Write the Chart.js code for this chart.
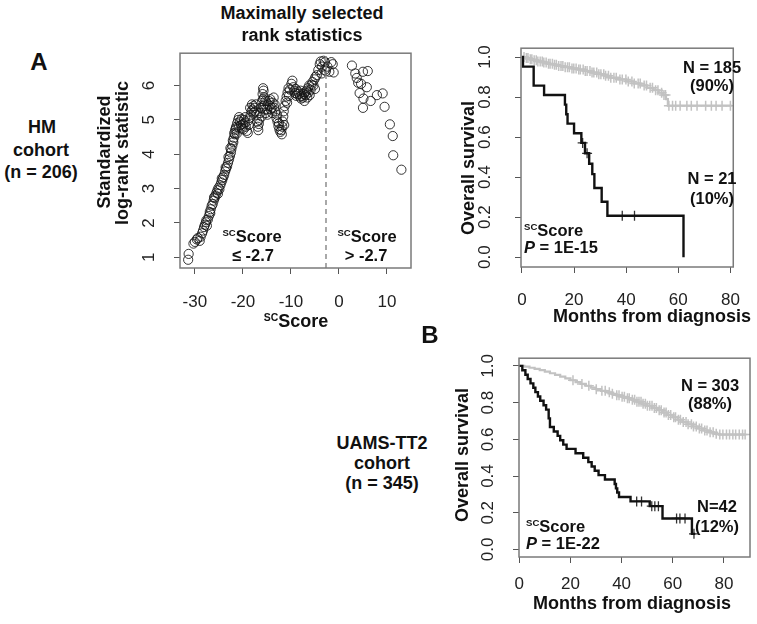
<!DOCTYPE html>
<html>
<head>
<meta charset="utf-8">
<script src="https://cdn.jsdelivr.net/npm/chart.js@4.4.1/dist/chart.umd.min.js"></script>
<style>
   body { margin: 0; background: #fff; }
   #fig { position: relative; width: 757px; height: 624px; overflow: hidden; font-family: "Liberation Sans", Arial, sans-serif; color: #111; }
   canvas { position: absolute; }
   .t { position: absolute; transform: translate(-50%, -50%); white-space: nowrap; line-height: 1; }
   .l { transform: translate(0, -50%); }
   .rot { transform: translate(-50%, -50%) rotate(-90deg); }
   .b { font-weight: bold; }
   .sc { font-size: 58%; vertical-align: 0.62em; font-weight: bold; }
</style>
</head>
<body>
<div id="fig">
   <canvas id="rankChart" width="330" height="300" style="left:90px;top:40px"></canvas>
   <canvas id="hmChart" width="317" height="290" style="left:440px;top:35px"></canvas>
   <canvas id="tt2Chart" width="317" height="275" style="left:440px;top:345px"></canvas>

   <div class="t b" style="left:302px;top:13px;font-size:18px">Maximally selected</div>
   <div class="t b" style="left:302px;top:35px;font-size:18px">rank statistics</div>
   <div class="t b" style="left:39px;top:62px;font-size:24px">A</div>
   <div class="t b" style="left:42px;top:127px;font-size:18px">HM</div>
   <div class="t b" style="left:41px;top:150px;font-size:18px">cohort</div>
   <div class="t b" style="left:41px;top:172px;font-size:18px">(n = 206)</div>
   <div class="t b rot" style="left:104px;top:152px;font-size:18px">Standardized</div>
   <div class="t b rot" style="left:122px;top:153px;font-size:18px">log-rank statistic</div>
   <div class="t b" style="left:296px;top:321px;font-size:18px"><span class="sc">SC</span>Score</div>
   <div class="t b" style="left:252px;top:236px;font-size:16.5px"><span class="sc">SC</span>Score</div>
   <div class="t b" style="left:253px;top:255px;font-size:16.5px">≤ -2.7</div>
   <div class="t b" style="left:367px;top:236px;font-size:16.5px"><span class="sc">SC</span>Score</div>
   <div class="t b" style="left:366px;top:255px;font-size:16.5px">&gt; -2.7</div>

   <div class="t b rot" style="left:468px;top:168px;font-size:18px">Overall survival</div>
   <div class="t b" style="left:652px;top:316px;font-size:18px">Months from diagnosis</div>
   <div class="t b" style="left:712px;top:67px;font-size:16.5px">N = 185</div>
   <div class="t b" style="left:712px;top:85px;font-size:16.5px">(90%)</div>
   <div class="t b" style="left:712px;top:178px;font-size:16.5px">N = 21</div>
   <div class="t b" style="left:712px;top:198px;font-size:16.5px">(10%)</div>
   <div class="t b l" style="left:524px;top:230px;font-size:16.5px"><span class="sc">SC</span>Score</div>
   <div class="t b l" style="left:524px;top:247px;font-size:16.5px"><i>P</i> = 1E-15</div>

   <div class="t b" style="left:430px;top:335px;font-size:24px">B</div>
   <div class="t b" style="left:382px;top:443px;font-size:18px">UAMS-TT2</div>
   <div class="t b" style="left:382px;top:463px;font-size:18px">cohort</div>
   <div class="t b" style="left:382px;top:483px;font-size:18px">(n = 345)</div>
   <div class="t b rot" style="left:462px;top:455px;font-size:18px">Overall survival</div>
   <div class="t b" style="left:632px;top:603px;font-size:18px">Months from diagnosis</div>
   <div class="t b" style="left:710px;top:385px;font-size:16.5px">N = 303</div>
   <div class="t b" style="left:710px;top:403px;font-size:16.5px">(88%)</div>
   <div class="t b" style="left:717px;top:506px;font-size:16.5px">N=42</div>
   <div class="t b" style="left:717px;top:526px;font-size:16.5px">(12%)</div>
   <div class="t b l" style="left:526px;top:526px;font-size:16.5px"><span class="sc">SC</span>Score</div>
   <div class="t b l" style="left:526px;top:543px;font-size:16.5px"><i>P</i> = 1E-22</div>
</div>

<script>
// ---- panel A, left: maximally selected rank statistics (HM cohort)
const scoreCut = [
   -31.4, -31.3, -30.3, -30.0, -29.6, -29.4, -29.0, -28.8, -28.5, -28.3,
   -28.1, -27.9, -27.7, -27.5, -27.3, -27.1, -26.9, -26.7, -26.5, -26.3,
   -26.1, -25.9, -25.7, -25.5, -25.3, -25.1, -24.9, -24.7, -24.5, -24.3,
   -24.1, -23.9, -23.7, -23.5, -23.3, -23.1, -22.9, -22.7, -22.5, -22.4,
   -22.2, -22.0, -21.9, -21.7, -21.6, -21.4, -21.2, -21.0, -20.8, -20.6,
   -20.4, -20.2, -20.0, -19.8, -19.6, -19.4, -19.2, -19.0, -18.8, -18.6,
   -18.4, -18.2, -18.0, -17.8, -17.6, -17.4, -17.2, -17.0, -16.9, -16.8,
   -16.6, -16.4, -16.2, -16.0, -15.9, -15.8, -15.7, -15.6, -15.5, -15.4,
   -15.2, -15.0, -14.8, -14.6, -14.4, -14.2, -14.0, -13.8, -13.6, -13.4,
   -13.2, -13.0, -12.8, -12.6, -12.4, -12.2, -12.0, -11.8, -11.7, -11.6,
   -11.5, -11.3, -11.1, -10.9, -10.7, -10.5, -10.2, -9.9, -9.7, -9.5,
   -9.3, -9.1, -8.9, -8.7, -8.5, -8.3, -8.1, -7.9, -7.7, -7.5,
   -7.3, -7.1, -6.9, -6.7, -6.5, -6.3, -6.1, -5.9, -5.7, -5.5,
   -5.3, -5.1, -4.9, -4.6, -4.3, -4.0, -3.8, -3.5, -3.2, -2.9,
   -2.7, -2.4, -2.0, -1.6, -1.3, -1.1,
   -27.6, -26.8, -26.0, -25.2, -24.4, -23.6, -23.0, -22.6, -22.1, -21.8,
   -21.5, -21.3, -20.9, -20.3, -19.9, -19.5, -18.9, -18.5, -18.1, -17.7,
   -17.3, -16.7, -16.1, -15.8, -15.7, -15.3, -14.9, -14.3, -13.9, -13.5,
   -12.9, -12.5, -11.9, -11.4, -10.8, -10.4, -9.0, -8.0, -7.2, -6.6,
   -6.2, -5.0, -3.6, -3.0,
   2.7, 3.4, 3.7, 4.0, 4.3, 4.6, 5.0, 5.1, 5.0, 5.8,
   6.0, 6.6, 7.9, 9.1, 9.5, 10.6, 11.2, 11.3, 13.0
];
const stdLogRank = [
   0.93, 1.10, 1.40, 1.45, 1.52, 1.56, 1.48, 1.60, 1.70, 1.78,
   1.88, 1.95, 2.02, 1.92, 2.10, 2.20, 2.32, 2.40, 2.50, 2.55,
   2.65, 2.72, 2.80, 2.88, 2.95, 3.02, 2.98, 3.10, 3.18, 3.25,
   3.33, 3.40, 3.50, 3.58, 3.65, 3.75, 3.85, 3.95, 4.05, 4.15,
   4.25, 4.35, 4.48, 4.58, 4.70, 4.80, 4.90, 5.00, 5.08, 4.95,
   4.85, 4.75, 4.88, 5.00, 4.92, 4.80, 4.68, 4.62, 4.85, 5.05,
   5.15, 5.25, 5.30, 5.40, 5.35, 5.25, 5.15, 4.95, 4.80, 4.70,
   5.00, 5.20, 5.35, 5.55, 5.75, 5.92, 5.85, 5.65, 5.45, 5.30,
   5.20, 5.30, 5.45, 5.55, 5.40, 5.30, 5.35, 5.50, 5.65, 5.45,
   5.25, 5.05, 4.95, 4.82, 4.72, 4.65, 4.70, 4.80, 4.95, 5.10,
   5.25, 5.40, 5.55, 5.68, 5.80, 5.92, 5.88, 6.05, 6.14, 5.95,
   5.85, 5.78, 5.70, 5.75, 5.82, 5.76, 5.68, 5.62, 5.70, 5.65,
   5.75, 5.80, 5.72, 5.85, 5.92, 5.80, 5.72, 5.88, 6.02, 6.10,
   6.00, 6.18, 6.25, 6.30, 6.45, 6.62, 6.70, 6.55, 6.72, 6.68,
   6.42, 6.55, 6.40, 6.68, 6.62, 6.38,
   2.08, 2.28, 2.75, 2.85, 3.30, 3.62, 3.92, 4.18, 4.40, 4.62,
   4.75, 4.60, 4.78, 5.02, 4.72, 5.08, 4.98, 5.35, 5.45, 5.22,
   5.45, 4.88, 5.10, 5.60, 5.40, 5.55, 5.15, 5.60, 5.20, 5.35,
   5.15, 4.90, 4.58, 4.85, 5.50, 5.70, 5.90, 5.85, 5.55, 5.65,
   6.00, 5.90, 6.35, 6.45,
   6.58, 6.35, 6.22, 6.08, 5.78, 6.05, 6.40, 5.62, 5.35, 5.95,
   6.42, 5.55, 5.72, 5.77, 5.38, 4.87, 4.53, 3.97, 3.55
];
const cutoff = -2.7;
const rankXTicks = [-30, -20, -10, 0, 10];
const rankYTicks = [1, 2, 3, 4, 5, 6];

// ---- panel A, right: HM cohort Kaplan-Meier
const hmLowTime = [0, 0.4, 4.5, 8.5, 16.5, 17.0, 17.5, 20.0, 22.8, 24.2, 25.8, 27.0, 27.8, 30.6, 32.8, 62.0];
const hmLowSurv = [1.0, 0.952, 0.857, 0.810, 0.762, 0.714, 0.667, 0.619, 0.571, 0.519, 0.467, 0.415, 0.346, 0.277, 0.207, 0.0];
const hmLowCens = [23.3, 25.0, 38.5, 43.2];
const hmHighTime = [0, 1.5, 3, 4.5, 6, 8, 10, 12, 14, 16.5, 19, 21.5, 24, 26.5, 29, 31.5, 34, 37, 40, 43, 45.5, 48, 50.5, 52.5, 54, 55.3, 56, 80.5];
const hmHighSurv = [1.0, 0.995, 0.989, 0.984, 0.978, 0.972, 0.966, 0.961, 0.955, 0.949, 0.943, 0.937, 0.930, 0.922, 0.914, 0.906, 0.897, 0.888, 0.878, 0.868, 0.858, 0.846, 0.834, 0.822, 0.810, 0.790, 0.757, 0.757];
const hmHighCens = [0.8, 1.7, 2.3, 3.2, 3.8, 4.7, 5.5, 6.1, 7.0, 7.8, 8.4, 9.3, 10.2, 10.8, 11.7, 12.5, 13.2, 14.1, 15.0, 15.7,
   16.6, 17.5, 18.2, 19.2, 19.9, 20.8, 21.8, 22.4, 23.5, 24.3, 25.0, 26.1, 26.9, 27.6, 28.7, 29.5, 30.3, 31.4, 32.1, 33.2,
   34.1, 35.3, 36.2, 37.6, 38.5, 39.9, 40.8, 42.2, 43.1, 44.6, 45.4, 46.9, 47.8, 49.2, 50.1, 51.3, 52.2, 53.6, 54.5, 55.1,
   56.4, 57.8, 59.0, 60.7, 63.3, 65.0, 67.2, 70.5, 72.7, 74.5, 76.8, 80.0];
const kmXTicks = [0, 20, 40, 60, 80];
const kmYTicks = [0, 0.2, 0.4, 0.6, 0.8, 1.0];

// ---- panel B: UAMS-TT2 cohort Kaplan-Meier
const tt2LowTime = [0, 1.2, 2.4, 3.3, 4.4, 5.5, 6.3, 7.3, 8.2, 9.5, 10.5, 11.5, 12.0, 13.5, 15.0, 16.0, 17.2, 18.5, 22.0, 25.0,
   27.0, 28.3, 29.5, 31.0, 33.5, 37.3, 37.8, 38.3, 39.0, 43.5, 51.0, 56.0, 67.5, 68.8];
const tt2LowSurv = [1.0, 0.976, 0.952, 0.929, 0.905, 0.881, 0.857, 0.833, 0.810, 0.786, 0.762, 0.714, 0.667, 0.643, 0.619, 0.595, 0.571, 0.548, 0.524, 0.500,
   0.476, 0.452, 0.429, 0.405, 0.381, 0.357, 0.333, 0.310, 0.286, 0.262, 0.236, 0.169, 0.085, 0.085];
const tt2LowCens = [45.9, 47.8, 51.8, 53.0, 54.4, 61.5, 62.8, 64.8, 68.3];
const tt2HighTime = [0, 2, 4, 6, 8, 10, 12, 14, 16, 18, 20, 22, 24, 26, 28, 30, 32, 34, 36, 38,
   40, 42, 44, 46, 48, 50, 52, 54, 56, 58, 60, 62, 64, 66, 68, 70, 72, 74, 76, 78, 88.5];
const tt2HighSurv = [1.0, 0.996, 0.990, 0.984, 0.977, 0.969, 0.960, 0.951, 0.942, 0.932, 0.922, 0.912, 0.902, 0.892, 0.882, 0.873, 0.864, 0.856, 0.848, 0.840,
   0.832, 0.824, 0.815, 0.805, 0.794, 0.783, 0.771, 0.759, 0.746, 0.733, 0.720, 0.707, 0.694, 0.682, 0.670, 0.659, 0.648, 0.638, 0.630, 0.626, 0.626];
const tt2HighCens = [21.0, 24.5, 27.2, 30.1, 32.3, 33.6, 35.2, 36.4, 38.1, 39.0, 40.2, 41.1, 42.3, 43.0, 44.2, 45.1, 46.0, 46.8, 47.6, 48.4,
   49.3, 50.1, 51.0, 51.9, 52.8, 53.6, 54.7, 55.5, 56.6, 57.4, 58.3, 59.2, 60.4, 61.1, 62.2, 63.0, 64.1, 65.2, 66.0, 67.3,
   68.1, 69.2, 70.4, 71.3, 72.5, 73.4, 74.6, 75.8, 77.0, 78.4, 79.6, 81.0, 82.2, 83.5, 84.6, 86.0, 87.3, 88.3];

// ---------------------------------------------------------------------------
const FONT = '"Liberation Sans", Arial, sans-serif';
Chart.defaults.font.family = FONT;
Chart.defaults.animation = false;

function survAt(times, surv, t) {
   let s = surv[0];
   for (let i = 0; i < times.length; i++) {
      if (times[i] <= t) s = surv[i];
   }
   return s;
}

function curve(times, surv) {
   return times.map((t, i) => ({ x: t, y: surv[i] }));
}

function censorPoints(times, surv, cens) {
   return cens.map(t => ({ x: t, y: survAt(times, surv, t) }));
}

// box round the plot region, like R's box()
const frame = {
   id: 'frame',
   afterDatasetsDraw(chart) {
      const a = chart.chartArea, ctx = chart.ctx;
      ctx.save();
      ctx.strokeStyle = '#7a7a7a';
      ctx.lineWidth = 1.5;
      ctx.strokeRect(a.left, a.top, a.right - a.left, a.bottom - a.top);
      ctx.restore();
   }
};

// R draws y tick labels parallel to the axis
const sideLabels = {
   id: 'sideLabels',
   afterDraw(chart, args, opts) {
      const sc = chart.scales.y, ctx = chart.ctx;
      ctx.save();
      ctx.font = '17px ' + FONT;
      ctx.fillStyle = '#222';
      ctx.textAlign = 'center';
      ctx.textBaseline = 'middle';
      sc.ticks.forEach(t => {
         ctx.save();
         ctx.translate(chart.chartArea.left - opts.offset, sc.getPixelForValue(t.value));
         ctx.rotate(-Math.PI / 2);
         ctx.fillText(t.value.toFixed(opts.digits), 0, 0);
         ctx.restore();
      });
      ctx.restore();
   }
};

function axes(o) {
   return {
      x: {
         type: 'linear', min: o.xMin, max: o.xMax,
         afterBuildTicks: s => { s.ticks = o.xTicks.map(v => ({ value: v })); },
         afterFit: s => { s.height = o.bottom; },
         grid: { drawOnChartArea: false, drawTicks: true, tickLength: 6, color: '#555' },
         border: { display: false },
         ticks: { color: '#222', font: { size: 17 }, padding: o.xPad, maxRotation: 0 }
      },
      y: {
         type: 'linear', min: o.yMin, max: o.yMax,
         afterBuildTicks: s => { s.ticks = o.yTicks.map(v => ({ value: v })); },
         afterFit: s => { s.width = o.left; },
         grid: { drawOnChartArea: false, drawTicks: true, tickLength: 6, color: '#555' },
         border: { display: false },
         ticks: { color: 'rgba(0,0,0,0)', font: { size: 17 } }
      }
   };
}

// panel A left
new Chart(document.getElementById('rankChart'), {
   type: 'line',
   data: {
      datasets: [
         {
            data: [{ x: cutoff, y: 0.69 }, { x: cutoff, y: 6.94 }],
            borderColor: '#8c8c8c', borderWidth: 1.5, borderDash: [5, 4], pointRadius: 0
         },
         {
            data: scoreCut.map((v, i) => ({ x: v, y: stdLogRank[i] })),
            showLine: false, pointRadius: 4.6, pointBorderWidth: 1,
            pointBorderColor: 'rgba(20,20,20,0.85)', pointBackgroundColor: 'rgba(0,0,0,0)'
         }
      ]
   },
   options: {
      responsive: false,
      layout: { padding: { left: 0, top: 7, right: 9, bottom: 0 } },
      plugins: { legend: { display: false }, tooltip: { enabled: false }, sideLabels: { offset: 31, digits: 0 } },
      scales: axes({ xMin: -33.1, xMax: 15.0, yMin: 0.69, yMax: 6.94, xTicks: rankXTicks, yTicks: rankYTicks, bottom: 72, left: 90, xPad: 18 })
   },
   plugins: [frame, sideLabels]
});

function kmChart(id, low, high, o) {
   new Chart(document.getElementById(id), {
      type: 'line',
      data: {
         datasets: [
            {
               data: curve(low.time, low.surv), stepped: 'before',
               borderColor: '#111', borderWidth: 2.4, pointRadius: 0
            },
            {
               data: censorPoints(low.time, low.surv, low.cens), showLine: false,
               pointStyle: 'cross', pointRadius: 5, pointBorderWidth: 1.3, pointBorderColor: '#333'
            },
            {
               data: curve(high.time, high.surv), stepped: 'before',
               borderColor: '#c2c2c2', borderWidth: 2.2, pointRadius: 0
            },
            {
               data: censorPoints(high.time, high.surv, high.cens), showLine: false,
               pointStyle: 'cross', pointRadius: 5, pointBorderWidth: 1.5, pointBorderColor: '#c2c2c2'
            }
         ]
      },
      options: {
         responsive: false,
         layout: { padding: { left: 0, top: o.top, right: o.right, bottom: 0 } },
         plugins: { legend: { display: false }, tooltip: { enabled: false }, sideLabels: { offset: o.labelOffset, digits: 1 } },
         scales: axes(o)
      },
      plugins: [frame, sideLabels]
   });
}

kmChart('hmChart',
   { time: hmLowTime, surv: hmLowSurv, cens: hmLowCens },
   { time: hmHighTime, surv: hmHighSurv, cens: hmHighCens },
   { xMin: -0.36, xMax: 81.1, yMin: -0.049, yMax: 1.044, xTicks: kmXTicks, yTicks: kmYTicks,
     top: 8, right: 11, bottom: 58, left: 81, xPad: 17, labelOffset: 36 });

kmChart('tt2Chart',
   { time: tt2LowTime, surv: tt2LowSurv, cens: tt2LowCens },
   { time: tt2HighTime, surv: tt2HighSurv, cens: tt2HighCens },
   { xMin: -0.1, xMax: 90.2, yMin: -0.041, yMax: 1.042, xTicks: kmXTicks, yTicks: kmYTicks,
     top: 7, right: 7, bottom: 63, left: 79, xPad: 11, labelOffset: 31 });
</script>
</body>
</html>
